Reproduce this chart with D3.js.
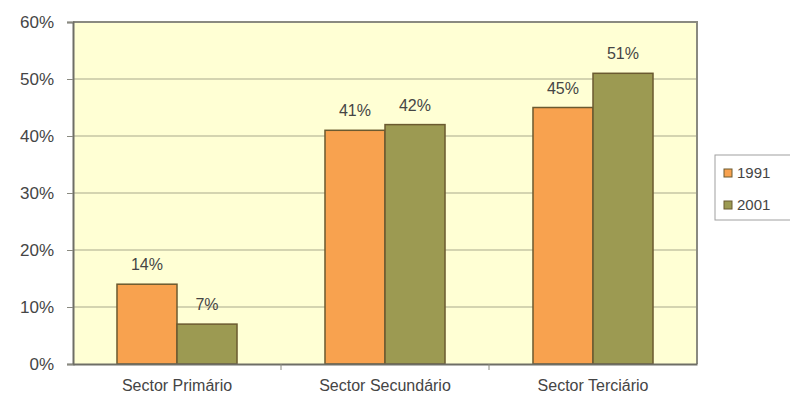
<!DOCTYPE html>
<html>
<head>
<meta charset="utf-8">
<script src="https://cdn.jsdelivr.net/npm/d3@7"></script>
<style>
  html, body { margin: 0; padding: 0; background: #fff; }
  svg { display: block; font-family: "Liberation Sans", Arial, sans-serif; }
</style>
</head>
<body>
<svg id="chart" width="790" height="400"></svg>
<script>
// Employment share by sector, 1991 vs 2001
const categories = ["Sector Primário", "Sector Secundário", "Sector Terciário"];
const seriesNames = ["1991", "2001"];
const values1991 = [14, 41, 45];
const values2001 = [7, 42, 51];
const yTicks = [0, 10, 20, 30, 40, 50, 60];

const colors = { "1991": "#f8a24f", "2001": "#9c9a52" };
const outline = "#6b5a30";
const textColor = "#454545";
const fontFamily = "'Liberation Sans', Arial, sans-serif";

const svg = d3.select("#chart");
const plot = { left: 73, right: 697, top: 22, bottom: 364 };

const x = d3.scaleBand()
  .domain(categories)
  .range([plot.left, plot.right])
  .paddingInner(0.423)
  .paddingOuter(0.2115);

const xSub = d3.scaleBand()
  .domain(seriesNames)
  .range([0, x.bandwidth()]);

const y = d3.scaleLinear()
  .domain([0, 60])
  .range([plot.bottom, plot.top]);

// plot background
svg.append("rect")
  .attr("x", plot.left).attr("y", plot.top)
  .attr("width", plot.right - plot.left)
  .attr("height", plot.bottom - plot.top)
  .attr("fill", "#ffffd4");

// gridlines
svg.append("g")
  .selectAll("line")
  .data(yTicks.filter(d => d > 0 && d < 60))
  .join("line")
  .attr("x1", plot.left).attr("x2", plot.right)
  .attr("y1", d => y(d)).attr("y2", d => y(d))
  .attr("stroke", "#c6c6a4").attr("stroke-width", 1.6);

// plot frame (top and right)
svg.append("path")
  .attr("d", `M${plot.left},${plot.top}H${plot.right}V${plot.bottom}`)
  .attr("fill", "none").attr("stroke", "#8a8a80").attr("stroke-width", 2);

// bars
const rows = categories.map((c, i) => ({
  category: c,
  items: [
    { series: "1991", value: values1991[i] },
    { series: "2001", value: values2001[i] }
  ]
}));

const groups = svg.append("g")
  .selectAll("g")
  .data(rows)
  .join("g")
  .attr("transform", d => `translate(${x(d.category)},0)`);

groups.selectAll("rect")
  .data(d => d.items)
  .join("rect")
  .attr("x", d => xSub(d.series))
  .attr("y", d => y(d.value))
  .attr("width", xSub.bandwidth())
  .attr("height", d => y(0) - y(d.value))
  .attr("fill", d => colors[d.series])
  .attr("stroke", outline)
  .attr("stroke-width", 1.5);

groups.selectAll("text")
  .data(d => d.items)
  .join("text")
  .attr("x", d => xSub(d.series) + xSub.bandwidth() / 2)
  .attr("y", d => y(d.value) - 14)
  .attr("text-anchor", "middle")
  .attr("font-size", 16)
  .attr("fill", textColor)
  .text(d => d.value + "%");

// y axis
const yAxis = svg.append("g")
  .attr("transform", `translate(${plot.left},0)`)
  .call(d3.axisLeft(y).tickValues(yTicks).tickFormat(d => d + "%").tickSize(6).tickPadding(13));
yAxis.select(".domain").attr("stroke", "#6e6e66").attr("stroke-width", 2);
yAxis.selectAll(".tick line").attr("stroke", "#8a8a80");
yAxis.selectAll(".tick text").attr("font-size", 17).attr("fill", textColor)
  .attr("font-family", fontFamily);

// x axis
const xAxis = svg.append("g")
  .attr("transform", `translate(0,${plot.bottom})`)
  .call(d3.axisBottom(x).tickSize(0).tickPadding(16).tickSizeOuter(0));
xAxis.select(".domain").attr("stroke", "#6e6e66").attr("stroke-width", 2);
xAxis.selectAll(".tick text").attr("font-size", 16).attr("fill", textColor)
  .attr("font-family", fontFamily);

// category separators on the x axis
svg.append("g")
  .selectAll("line")
  .data(categories.slice(1))
  .join("line")
  .attr("x1", d => x(d) - x.step() * x.paddingInner() / 2)
  .attr("x2", d => x(d) - x.step() * x.paddingInner() / 2)
  .attr("y1", plot.bottom).attr("y2", plot.bottom + 6)
  .attr("stroke", "#8a8a80");

// legend
const legend = svg.append("g").attr("transform", "translate(715,155)");
legend.append("rect")
  .attr("width", 80).attr("height", 65)
  .attr("fill", "#fff").attr("stroke", "#a0a0a0");
const li = legend.selectAll("g.item")
  .data(seriesNames)
  .join("g")
  .attr("class", "item")
  .attr("transform", (d, i) => `translate(9,${14 + i * 32})`);
li.append("rect")
  .attr("width", 8).attr("height", 8)
  .attr("fill", d => colors[d])
  .attr("stroke", outline);
li.append("text")
  .attr("x", 13).attr("y", 9)
  .attr("font-size", 15)
  .attr("fill", textColor)
  .text(d => d);
</script>
</body>
</html>
